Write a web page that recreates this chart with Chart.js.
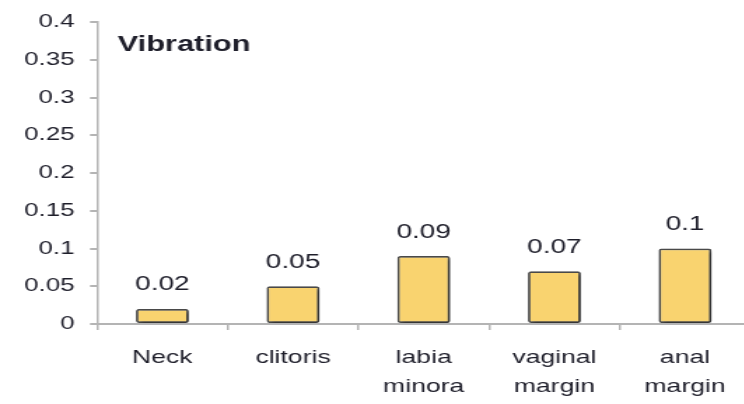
<!DOCTYPE html>
<html>
<head>
<meta charset="utf-8">
<script src="https://cdn.jsdelivr.net/npm/chart.js@4/dist/chart.umd.min.js"></script>
<style>
  html, body { margin: 0; padding: 0; background: #fff; overflow: hidden; }
  #wrap { width: 744px; height: 404px; overflow: hidden; }
  /* the chart is laid out narrow and widened sideways */
  #box { width: 536px; height: 404px; transform: scaleX(1.4); transform-origin: 0 0; }
</style>
</head>
<body>
<div id="wrap"><div id="box"><canvas id="chart"></canvas></div></div>
<script>
const categories = [['Neck'], ['clitoris'], ['labia', 'minora'], ['vaginal', 'margin'], ['anal', 'margin']];
const vibration = [0.02, 0.05, 0.09, 0.07, 0.1];
const yTicks = [0, 0.05, 0.1, 0.15, 0.2, 0.25, 0.3, 0.35, 0.4];

const FONT = 'Liberation Sans, Arial, Helvetica, sans-serif';
const TEXT = '#1e1e2a';
const AXIS = '#b4b4b4';

// soft drop shadow behind the bars
const barShadow = {
    id: 'barShadow',
    beforeDatasetsDraw(chart) {
        const ctx = chart.ctx;
        ctx.save();
        ctx.shadowColor = 'rgba(0,0,0,0.4)';
        ctx.shadowBlur = 3;
        ctx.shadowOffsetX = 2;
        ctx.shadowOffsetY = 2;
    },
    afterDatasetsDraw(chart) {
        chart.ctx.restore();
    }
};

// value over each bar and the title in the top left of the plot
const labels = {
    id: 'labels',
    afterDraw(chart) {
        const ctx = chart.ctx;
        ctx.save();
        ctx.fillStyle = TEXT;
        ctx.textAlign = 'center';
        ctx.textBaseline = 'bottom';
        ctx.font = '20px ' + FONT;
        chart.getDatasetMeta(0).data.forEach((bar, i) => {
            ctx.fillText(String(vibration[i]), bar.x, bar.y - 14);
        });
        ctx.textAlign = 'left';
        ctx.textBaseline = 'middle';
        ctx.font = 'bold 22px ' + FONT;
        ctx.fillText('Vibration', 84, 45);
        ctx.restore();
    }
};

new Chart(document.getElementById('chart'), {
    type: 'bar',
    data: {
        labels: categories,
        datasets: [{
            data: vibration,
            backgroundColor: '#f9d36f',
            borderColor: '#4a4a4a',
            borderWidth: 1.8,
            borderRadius: 2,
            borderSkipped: false,
            barPercentage: 0.9,
            categoryPercentage: 0.45
        }]
    },
    options: {
        responsive: true,
        maintainAspectRatio: false,
        animation: false,
        layout: { padding: { top: 20, right: 0, left: 0, bottom: 0 } },
        plugins: {
            legend: { display: false },
            title: { display: false },
            tooltip: { enabled: false }
        },
        scales: {
            x: {
                grid: {
                    offset: true,
                    drawOnChartArea: false,
                    drawTicks: true,
                    tickLength: 6,
                    color: AXIS,
                    lineWidth: 1.5
                },
                border: { display: true, color: AXIS, width: 2 },
                ticks: {
                    color: TEXT,
                    font: { family: FONT, size: 19, lineHeight: 1.5 },
                    padding: 14,
                    maxRotation: 0
                },
                afterFit(scale) { scale.height = 80; }
            },
            y: {
                min: 0,
                max: 0.4,
                afterBuildTicks(scale) {
                    scale.ticks = yTicks.map(v => ({ value: v }));
                },
                grid: {
                    drawOnChartArea: false,
                    drawTicks: true,
                    tickLength: 5,
                    color: AXIS,
                    lineWidth: 2
                },
                border: { display: true, color: AXIS, width: 1.5 },
                ticks: {
                    color: TEXT,
                    font: { family: FONT, size: 18.5 },
                    padding: 11,
                    callback: v => String(v)
                },
                afterFit(scale) { scale.width = 69.3; }
            }
        }
    },
    plugins: [barShadow, labels]
});
</script>
</body>
</html>
